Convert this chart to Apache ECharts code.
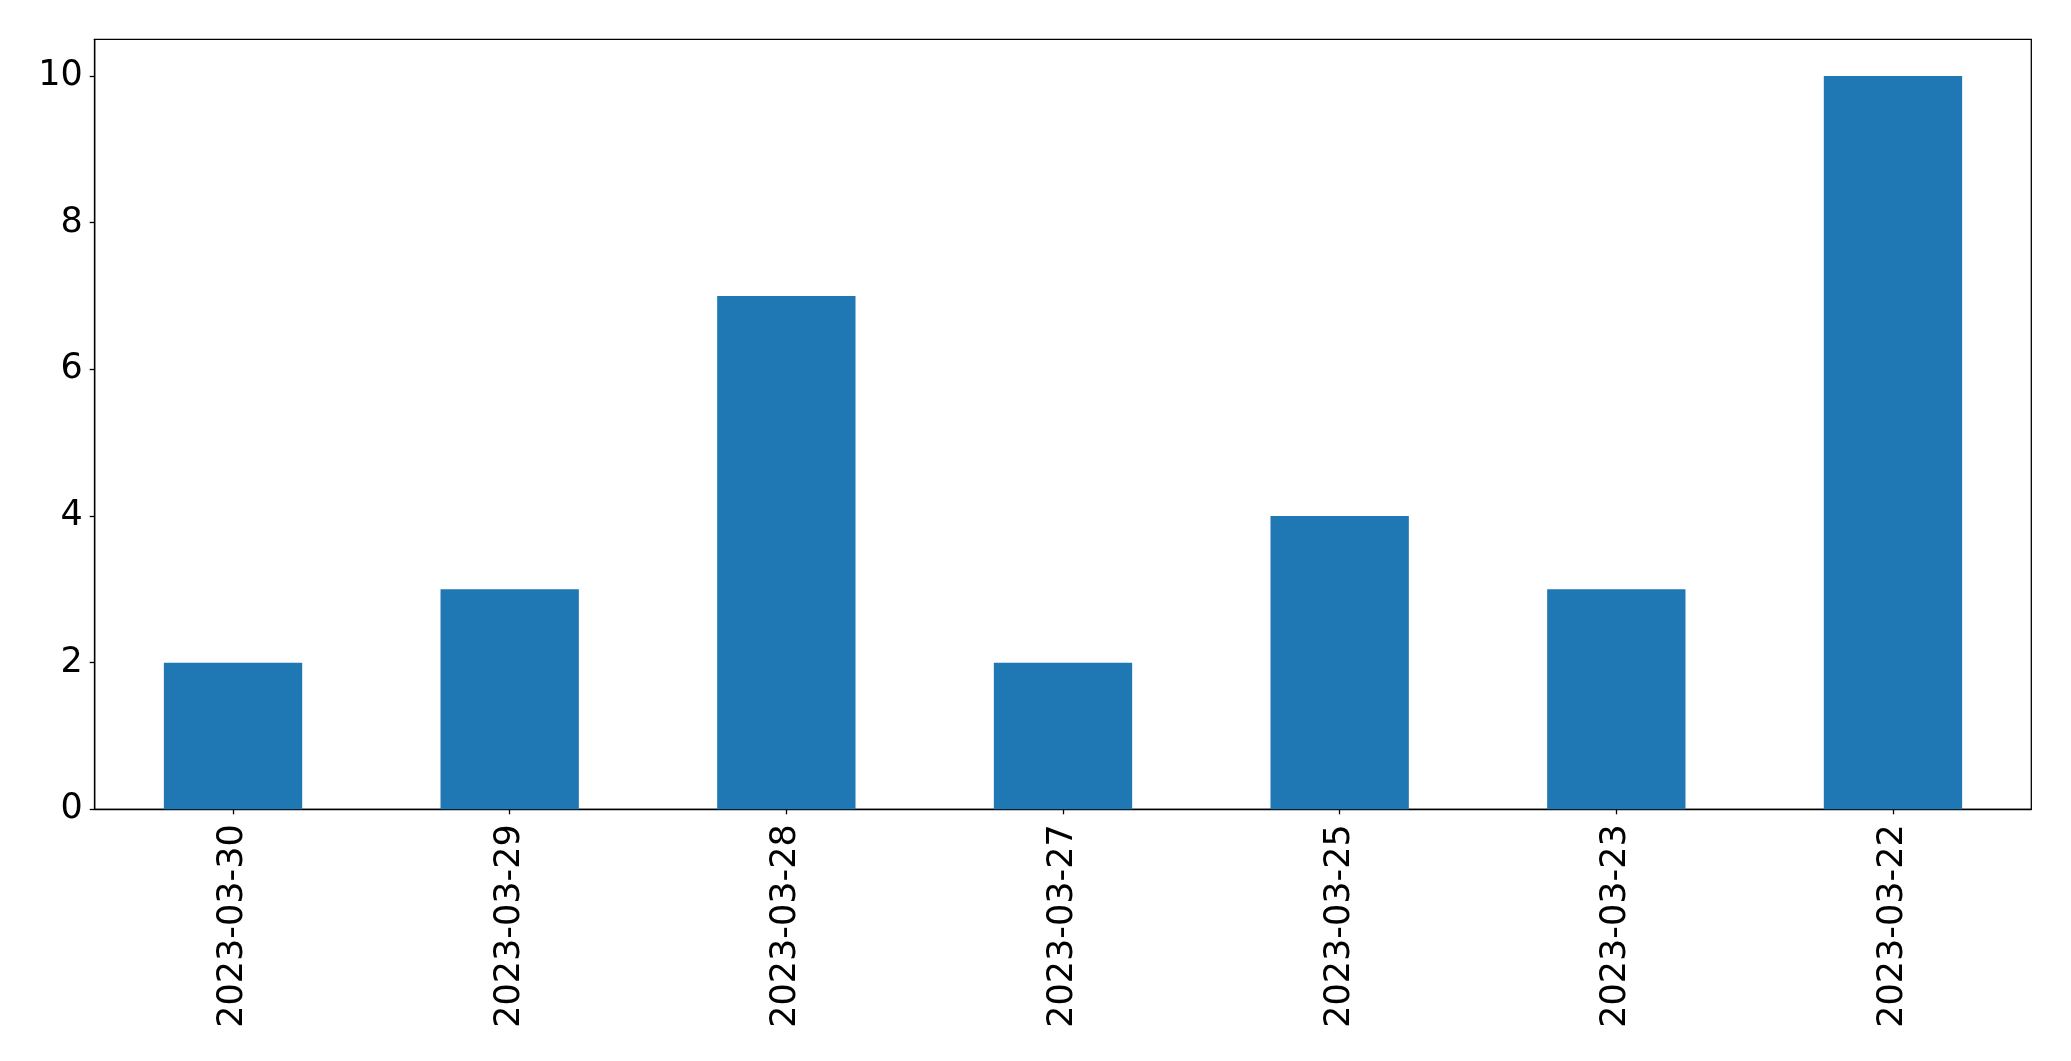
<!DOCTYPE html>
<html><head><meta charset="utf-8">
<script src="https://cdn.jsdelivr.net/npm/echarts@6/dist/echarts.min.js"></script>
<style>html,body{margin:0;padding:0;background:#fff}#c{width:2071px;height:1061px}</style>
</head><body><div id="c"></div>
<script>
const categories = ['2023-03-30','2023-03-29','2023-03-28','2023-03-27','2023-03-25','2023-03-23','2023-03-22'];
const values = [2, 3, 7, 2, 4, 3, 10];
const yTicks = [0, 2, 4, 6, 8, 10];

const chart = echarts.init(document.getElementById('c'), null, {renderer:'canvas'});
const font = 'DejaVu Sans';
chart.setOption({
  animation: false,
  backgroundColor: '#fff',
  grid: {left: 94.7, right: 39.7, top: 39.3, bottom: 251.7, show: true, borderColor: '#000', borderWidth: 1.3, backgroundColor: 'transparent'},
  xAxis: {
    type: 'category', data: categories,
    axisLine: {show: true, lineStyle: {color: '#000', width: 1.3}},
    axisTick: {show: true, alignWithLabel: true, length: 5, lineStyle: {color: '#000', width: 1.3}},
    axisLabel: {rotate: 90, fontSize: 35, color: '#000', fontFamily: font, margin: 15, interval: 0},
    splitLine: {show: false}
  },
  yAxis: {
    type: 'value', min: 0, max: 10.5, interval: 2,
    axisLine: {show: true, lineStyle: {color: '#000', width: 1.3}},
    axisTick: {show: true, length: 5, customValues: yTicks, lineStyle: {color: '#000', width: 1.3}},
    axisLabel: {fontSize: 35, color: '#000', fontFamily: font, margin: 12, customValues: yTicks,
      formatter: v => String(v)},
    splitLine: {show: false}
  },
  series: [{type: 'bar', data: values, barWidth: '50%', itemStyle: {color: '#1f77b4'}}]
});
</script></body></html>
